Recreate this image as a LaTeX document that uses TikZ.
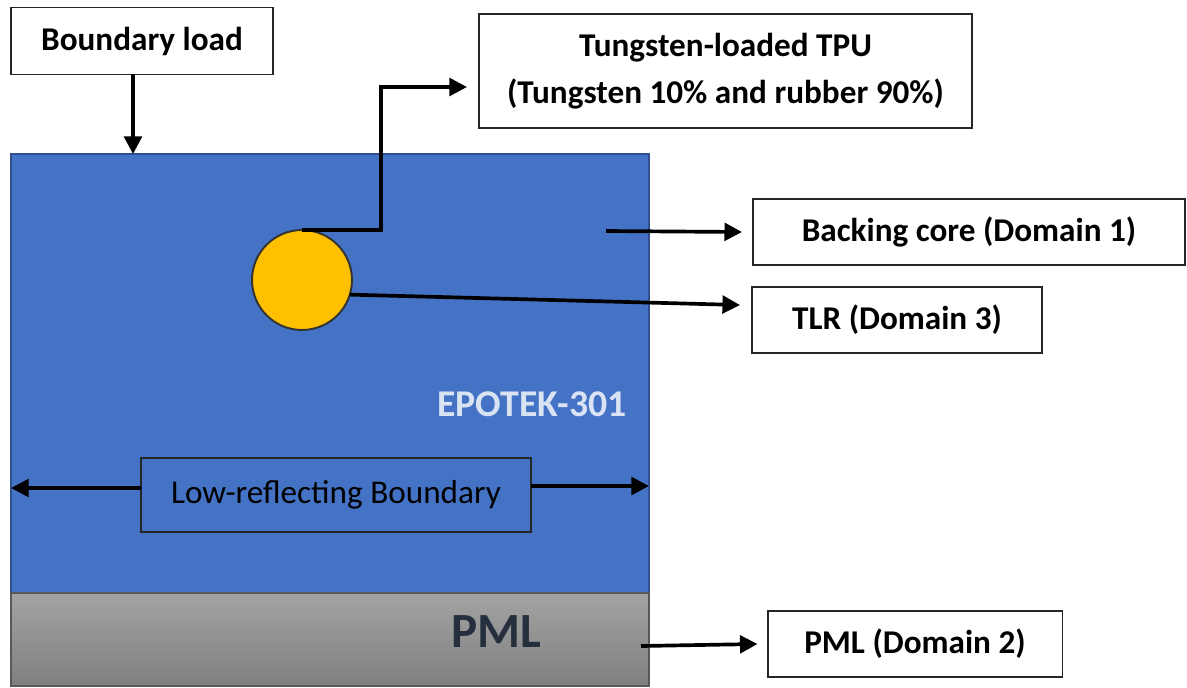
\documentclass[tikz,border=0pt]{standalone}
\usepackage{fontspec}
\setmainfont{Carlito}
\usetikzlibrary{arrows.meta}
\definecolor{coreblue}{HTML}{4472C4}
\definecolor{coreedge}{HTML}{2F4F8F}
\definecolor{tlrgold}{HTML}{FFC000}
\definecolor{pmltext}{HTML}{262F3D}
\definecolor{epolight}{HTML}{DAE3F3}
\tikzset{
  labelbox/.style={draw=black!85, line width=1.1pt, fill=white, inner sep=0pt, outer sep=0pt,
    minimum height=1.32cm, align=center, font=\fontsize{18.9}{27}\selectfont\bfseries},
  link/.style={line width=2.1pt, -{Triangle[length=10pt,width=10pt]}},
}
\begin{document}
\begin{tikzpicture}[x=0.02cm,y=-0.02cm]
\useasboundingbox (0,0) rectangle (1187,687);
\fill[white] (0,0) rectangle (1187,687);

% backing core (epoxy) and the PML layer beneath it
\node (core) [draw=coreedge, line width=0.9pt, fill=coreblue, inner sep=0pt, outer sep=0pt,
  minimum width=12.76cm, minimum height=8.78cm] at (330,373.5) {};
\shade[top color=black!36, bottom color=black!50, draw=black!65, line width=0.9pt]
  (11,593) rectangle (649,686);
\node (pmllayer) [inner sep=0pt, text=pmltext, font=\fontsize{28}{30}\selectfont\bfseries]
  at (496,632) {PML};
\node (epo) [text=epolight, font=\fontsize{21.5}{24}\selectfont\bfseries] at (532,404) {EPOTEK-301};

% tungsten-loaded rubber inclusion
\node (ball) [circle, draw=black!80, line width=1.1pt, fill=tlrgold, minimum size=2cm,
  inner sep=0pt, outer sep=0pt] at (302,280) {};

% label boxes
\node (load) [labelbox, minimum width=5.24cm, minimum height=1.34cm] at (142,41) {Boundary load};
\node (tpu) [labelbox, minimum width=9.86cm, minimum height=2.28cm] at (725.5,71)
  {Tungsten-loaded TPU\\(Tungsten 10\% and rubber 90\%)};
\node (backing) [labelbox, minimum width=8.64cm] at (969,232) {Backing core (Domain 1)};
\node (tlr) [labelbox, minimum width=5.8cm] at (897,320) {TLR (Domain 3)};
\node (pmlbox) [labelbox, minimum width=5.9cm] at (915,644) {PML (Domain 2)};
\node (lrb) [draw=black!85, line width=1.1pt, inner sep=0pt, outer sep=0pt,
  minimum width=7.8cm, minimum height=1.48cm, font=\fontsize{18.9}{22}\selectfont]
  at (336,495) {Low-reflecting Boundary};

% anchor points inside the domains and arrow ends
\coordinate (coremark) at (606,231);
\coordinate (pmlmark) at (641,646);
\coordinate (tpuin) at (467,87);
\coordinate (tlrin) at (740,305);

% connectors
\draw[link] ([xshift=-0.18cm]load.south) -- ([xshift=-0.18cm]load.south |- core.north);
\draw[link] (ball.north) -- ++(79,0) |- (tpuin);
\draw[link] (ball.-17) -- (tlrin);
\draw[link] (coremark) -- ([xshift=-0.22cm]backing.west);
\draw[link] (pmlmark) -- ([xshift=-0.2cm]pmlbox.west);
\draw[link] ([yshift=0.14cm]lrb.west) -- ([yshift=0.14cm]lrb.west -| core.west);
\draw[link] ([yshift=0.18cm]lrb.east) -- ([yshift=0.18cm]lrb.east -| core.east);
\end{tikzpicture}
\end{document}
